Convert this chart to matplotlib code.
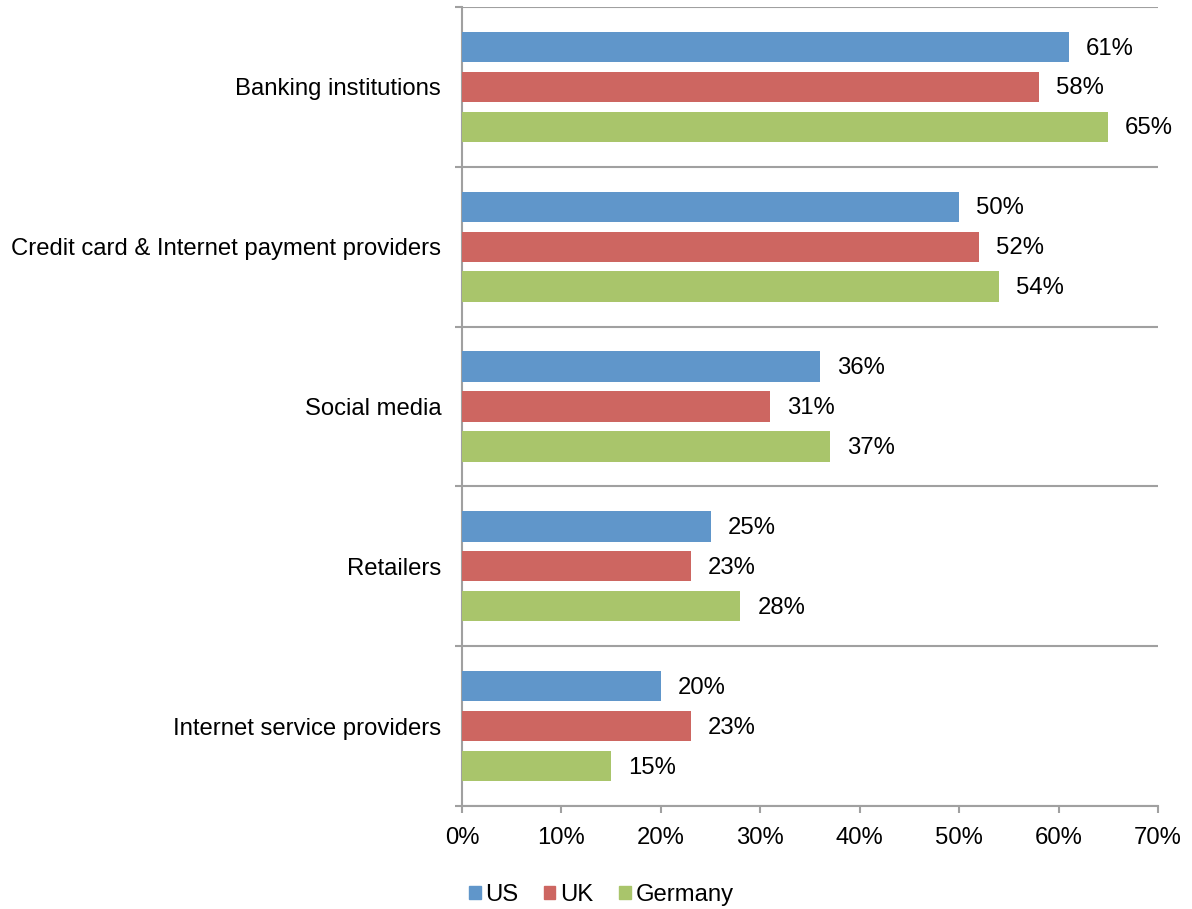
import numpy as np
import matplotlib.pyplot as plt
from matplotlib.ticker import FuncFormatter, FixedLocator
from matplotlib.patches import Patch

plt.rcParams['font.family'] = ['Liberation Sans', 'DejaVu Sans']

categories = ['Banking institutions', 'Credit card & Internet payment providers',
              'Social media', 'Retailers', 'Internet service providers']
series = ['US', 'UK', 'Germany']
us = [61, 50, 36, 25, 20]
uk = [58, 52, 31, 23, 23]
germany = [65, 54, 37, 28, 15]
colors = ['#6096CA', '#CD6661', '#A9C56B']

fs = 17.2

fig = plt.figure(figsize=(11.92, 9.09), dpi=100)
ax = fig.add_axes([462 / 1192, 1 - 806 / 909, (1158 - 462) / 1192, (806 - 7) / 909])

y = np.arange(len(categories))
h = 0.19
step = 0.25
for i, (vals, c) in enumerate(zip([us, uk, germany], colors)):
    pos = y + (i - 1) * step
    ax.barh(pos, vals, height=h, color=c, zorder=3)
    for p, v in zip(pos, vals):
        ax.text(v + 1.7, p + 0.01, f'{v}%', va='center', ha='left', fontsize=fs)

ax.set_xlim(0, 70)
ax.set_ylim(len(categories) - 0.5, -0.5)
ax.set_xticks(np.arange(0, 71, 10))
ax.xaxis.set_major_formatter(FuncFormatter(lambda v, p: f'{v:.0f}%'))

ax.yaxis.set_major_locator(FixedLocator(np.arange(-0.5, len(categories), 1)))
ax.yaxis.set_major_formatter(FuncFormatter(lambda v, p: ''))
ax.yaxis.set_minor_locator(FixedLocator(y))
ax.set_yticklabels(categories, minor=True)
ax.tick_params(axis='y', which='minor', length=0, pad=15, labelsize=fs)
ax.tick_params(axis='y', which='major', length=5, width=1.5, color='#A0A0A0')
ax.tick_params(axis='x', length=5, width=1.5, color='#A0A0A0', pad=10, labelsize=fs)
ax.grid(axis='y', which='major', color='#A0A0A0', linewidth=1.5, zorder=0)

for s in ['top', 'right']:
    ax.spines[s].set_visible(False)
for s in ['left', 'bottom']:
    ax.spines[s].set_color('#A0A0A0')
    ax.spines[s].set_linewidth(1.5)

handles = [Patch(color=c, label=s) for s, c in zip(series, colors)]
fig.legend(handles=handles, loc='center', bbox_to_anchor=(601 / 1192, 1 - 895 / 909),
           ncol=3, frameon=False, fontsize=fs, handlelength=0.5, handleheight=0.5,
           handletextpad=0.2, columnspacing=1.05)

fig.savefig('out.png', dpi=100)
